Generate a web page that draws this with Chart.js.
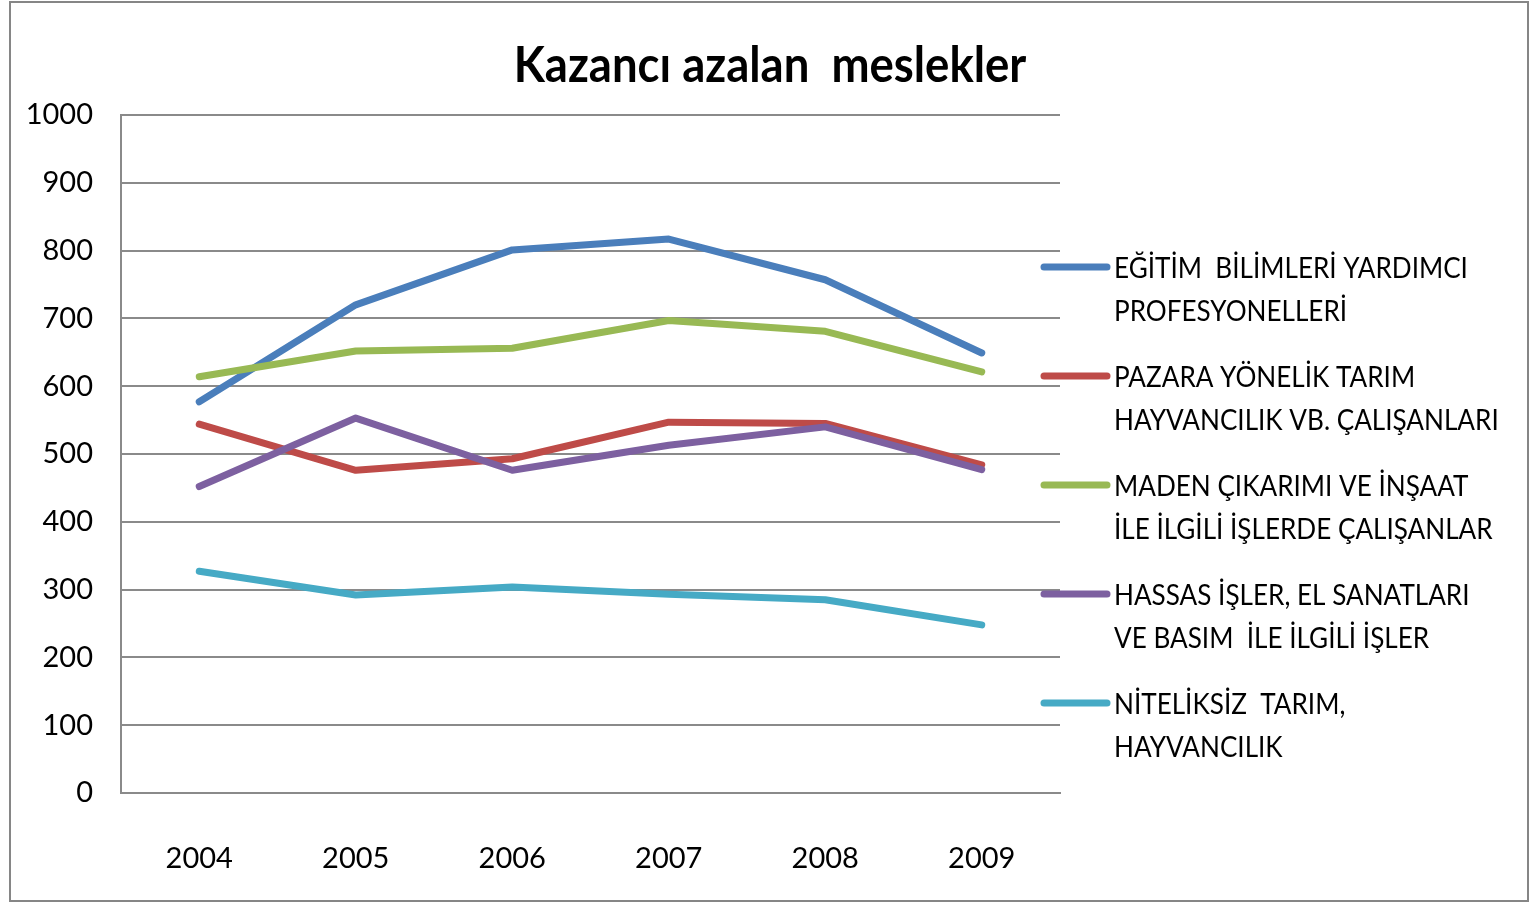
<!DOCTYPE html>
<html>
<head>
<meta charset="utf-8">
<script src="https://cdn.jsdelivr.net/npm/chart.js@4"></script>
<style>
  body { margin: 0; background: #fff; }
  #wrap { width: 1531px; height: 904px; }
</style>
</head>
<body>
<div id="wrap"><canvas id="chart"></canvas></div>
<script>
const years = ["2004", "2005", "2006", "2007", "2008", "2009"];

const egitim = [577, 720, 801, 817, 757, 649];
const pazara = [544, 476, 493, 547, 545, 484];
const maden = [614, 652, 656, 697, 681, 621];
const hassas = [452, 553, 476, 513, 540, 477];
const niteliksiz = [327, 292, 304, 293, 285, 248];

const seriesNames = [
  ["EĞİTİM  BİLİMLERİ YARDIMCI", "PROFESYONELLERİ"],
  ["PAZARA YÖNELİK TARIM", "HAYVANCILIK VB. ÇALIŞANLARI"],
  ["MADEN ÇIKARIMI VE İNŞAAT", "İLE İLGİLİ İŞLERDE ÇALIŞANLAR"],
  ["HASSAS İŞLER, EL SANATLARI", "VE BASIM  İLE İLGİLİ İŞLER"],
  ["NİTELİKSİZ  TARIM,", "HAYVANCILIK"]
];
const colors = ["#4a7ebb", "#be4b48", "#98b954", "#7d60a0", "#46aac5"];
const values = [egitim, pazara, maden, hassas, niteliksiz];
const chartTitle = "Kazancı azalan  meslekler";

const FONT = "Lato, 'Open Sans', sans-serif";
const GRID = "#8a8a8a";

// frame, title and legend drawn by hand (Calibri look: narrow text, wrapped labels)
const frameLegend = {
  id: "frameLegend",
  beforeDraw(chart) {
    const ctx = chart.ctx;
    ctx.save();
    ctx.fillStyle = "#fff";
    ctx.fillRect(0, 0, chart.width, chart.height);
    ctx.strokeStyle = "#868686";
    ctx.lineWidth = 2;
    ctx.strokeRect(10, 2, 1518, 899);
    ctx.restore();
  },
  afterDraw(chart) {
    const ctx = chart.ctx;
    ctx.save();
    // title
    ctx.fillStyle = "#000";
    ctx.font = "bold 50px " + FONT;
    ctx.textAlign = "center";
    ctx.textBaseline = "alphabetic";
    ctx.save();
    ctx.translate(770, 82);
    ctx.scale(0.91, 1);
    ctx.fillText(chartTitle, 0, 0);
    ctx.restore();

    // legend
    const x0 = chart.chartArea.right - 19;
    ctx.font = "29px " + FONT;
    ctx.textAlign = "left";
    ctx.textBaseline = "middle";
    chart.data.datasets.forEach((ds, i) => {
      const y = 267 + i * 109;
      ctx.strokeStyle = ds.borderColor;
      ctx.lineWidth = 7;
      ctx.lineCap = "round";
      ctx.beginPath();
      ctx.moveTo(x0 + 3, y);
      ctx.lineTo(x0 + 66, y);
      ctx.stroke();
      seriesNames[i].forEach((line, j) => {
        ctx.save();
        ctx.translate(x0 + 73, y + 2 + j * 43);
        ctx.scale(0.9, 1);
        ctx.fillText(line, 0, 0);
        ctx.restore();
      });
    });
    ctx.restore();
  }
};

new Chart(document.getElementById("chart"), {
  type: "line",
  data: {
    labels: years,
    datasets: values.map((v, i) => ({
      label: seriesNames[i].join(" "),
      data: v,
      borderColor: colors[i],
      backgroundColor: colors[i],
      borderWidth: 7,
      borderCapStyle: "round",
      borderJoinStyle: "round",
      pointRadius: 0,
      tension: 0,
      order: 4 - i
    }))
  },
  options: {
    responsive: true,
    maintainAspectRatio: false,
    animation: false,
    events: [],
    layout: { padding: { left: 10, right: 471, top: 115, bottom: 0 } },
    plugins: {
      legend: { display: false },
      tooltip: { enabled: false },
      title: { display: false }
    },
    scales: {
      x: {
        offset: true,
        grid: { display: false, offset: true },
        border: { display: true, color: GRID, width: 2 },
        ticks: { color: "#000", font: { family: FONT, size: 29 }, padding: 40, maxRotation: 0 },
        afterFit(scale) { scale.height = 111; }
      },
      y: {
        min: 0,
        max: 1000,
        ticks: {
          stepSize: 100,
          color: "#000",
          font: { family: FONT, size: 29 },
          padding: 28,
          callback: (v) => String(v)
        },
        grid: { color: GRID, lineWidth: 2, drawTicks: false },
        border: { display: true, color: GRID, width: 2 },
        afterFit(scale) { scale.width = 111; }
      }
    }
  },
  plugins: [frameLegend]
});
</script>
</body>
</html>
